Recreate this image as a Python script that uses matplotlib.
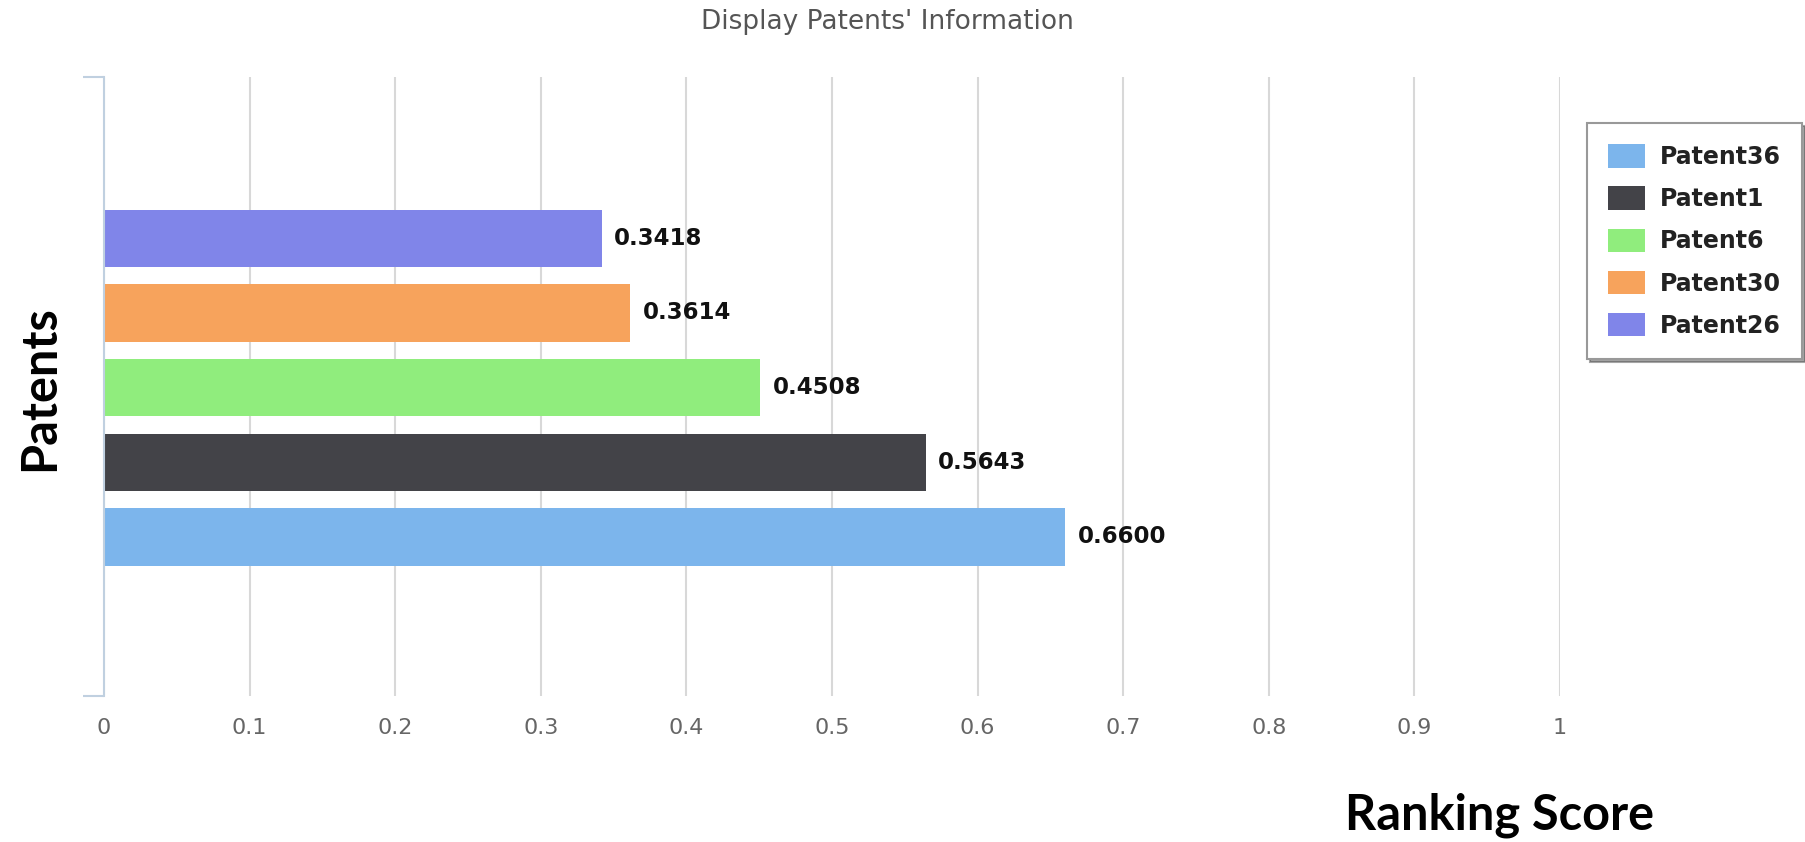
import matplotlib.pyplot as plt
from matplotlib.patches import Patch

patents = ['Patent36', 'Patent1', 'Patent6', 'Patent30', 'Patent26']
scores = [0.6600, 0.5643, 0.4508, 0.3614, 0.3418]
colors = ['#7cb5ec', '#434348', '#90ed7d', '#f7a35c', '#8085e9']
xticks = [0, 0.1, 0.2, 0.3, 0.4, 0.5, 0.6, 0.7, 0.8, 0.9, 1]
xtick_labels = ['0', '0.1', '0.2', '0.3', '0.4', '0.5', '0.6', '0.7', '0.8', '0.9', '1']

fig = plt.figure(figsize=(18.06, 8.42), dpi=100)
ax = fig.add_axes([104 / 1806, 1 - 696 / 842, 1456 / 1806, 619 / 842])

pos = list(range(len(patents)))
ax.barh(pos, scores, height=0.77, color=colors, zorder=3)

for p, s in zip(pos, scores):
    ax.annotate('%.4f' % s, (s, p), xytext=(9, 0), textcoords='offset points',
                va='center', ha='left', fontsize=16.5, fontweight='bold', color='#111111')

ylo, yhi = -2.13, 6.16
ax.set_xlim(0, 1)
ax.set_ylim(ylo, yhi)

ax.set_xticks(xticks)
ax.set_xticklabels(xtick_labels, fontsize=16, color='#666666')
ax.tick_params(axis='x', length=0, pad=16)
ax.set_yticks([ylo, yhi])
ax.set_yticklabels([])
ax.tick_params(axis='y', length=15, width=1.5, color='#c0d0e0', direction='out')

ax.grid(axis='x', color='#d8d8d8', linewidth=1.5, zorder=0)
for side in ['top', 'right', 'bottom']:
    ax.spines[side].set_visible(False)
ax.spines['left'].set_color('#c0d0e0')
ax.spines['left'].set_linewidth(1.5)
ax.spines['left'].set_zorder(4)

fig.text(887 / 1806, 1 - 22 / 842, "Display Patents' Information", ha='center', va='center',
         fontsize=19, color='#555555')
fig.text(40 / 1806, 1 - 388 / 842, 'Patents', rotation=90, ha='center', va='center',
         fontsize=35, fontweight='bold', family='Lato', color='black')
fig.text(1500 / 1806, 1 - 815 / 842, 'Ranking Score', ha='center', va='center',
         fontsize=35, fontweight='bold', family='Lato', color='black')

handles = [Patch(facecolor=c, edgecolor='none') for c in colors]
leg = fig.legend(handles, patents, loc='upper left',
                 bbox_to_anchor=(1587 / 1806, 1 - 123 / 842), borderaxespad=0,
                 prop={'size': 17, 'weight': 'bold'}, handlelength=1.55, handleheight=1.15,
                 labelspacing=0.74, fancybox=False, shadow=True, framealpha=1,
                 edgecolor='#999999', borderpad=0.9, handletextpad=0.65)
leg.get_frame().set_linewidth(1.5)
for t in leg.get_texts():
    t.set_color('#222222')

fig.savefig('out.png', dpi=100)
